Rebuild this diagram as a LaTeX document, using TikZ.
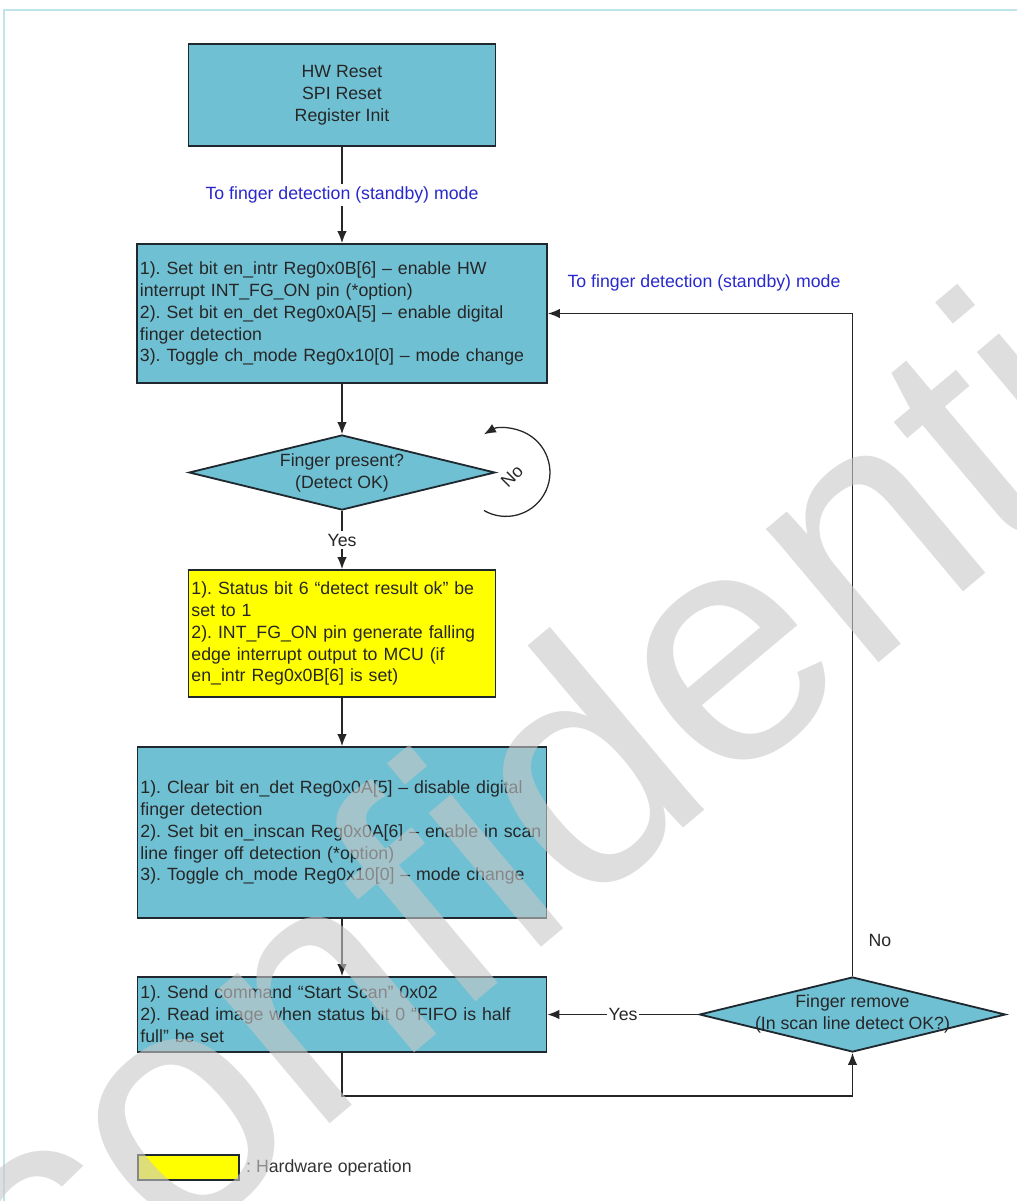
\documentclass[tikz,border=0pt]{standalone}
\usepackage{fontspec}
\setmainfont{Liberation Sans}
\usepackage{xcolor}
\usetikzlibrary{arrows.meta,shapes.geometric}
\definecolor{boxblue}{RGB}{112,192,212}
\definecolor{boxline}{RGB}{30,40,46}
\definecolor{modeblue}{RGB}{40,40,205}
\definecolor{framecyan}{RGB}{190,228,236}
\definecolor{hwyellow}{RGB}{255,255,0}
\definecolor{stampgray}{RGB}{200,200,200}
\frenchspacing

\begin{document}
\begin{tikzpicture}[x=0.025cm,y=-0.025cm,
  font=\fontsize{12.6}{15.6}\selectfont,
  >={Latex[length=3mm,width=2.4mm]},
  blk/.style={draw=boxline,line width=1.3pt,fill=boxblue,text=black!85,inner xsep=0.075cm,inner ysep=0pt},
  hwblk/.style={blk,fill=hwyellow},
  decide/.style={diamond,draw=boxline,line width=1.3pt,fill=boxblue,inner sep=0pt,
    minimum width=7.65cm,minimum height=1.875cm},
  link/.style={draw=black!85,line width=0.9pt},
  modetxt/.style={text=modeblue,fill=white,inner sep=2pt}]
\useasboundingbox (0,0) rectangle (1017,1201);
% frame
\draw[framecyan,line width=1.5pt] (4,1201) -- (4,10) -- (1017,10);

% boxes
\node[blk,minimum width=7.675cm,minimum height=2.55cm,align=center] (rst) at (342,95)
  {HW Reset\\SPI Reset\\Register Init};
\node[blk,text width=10.1cm,minimum height=3.475cm,align=left] (init) at (342,313.5)
  {1). Set bit en\_intr Reg0x0B[6] -- enable HW\\
   interrupt INT\_FG\_ON pin (*option)\\
   2). Set bit en\_det Reg0x0A[5] -- enable digital\\
   finger detection\\
   3). Toggle ch\_mode Reg0x10[0] -- mode change};
\node[decide] (dia1) at (342,472.5) {};
\node[align=center,text=black!85] (dia1txt) at (342,472.5) {Finger present?\\(Detect OK)};
\node[hwblk,text width=7.525cm,minimum height=3.175cm,align=left] (hw) at (342,633.5)
  {1). Status bit 6 ``detect result ok'' be\\
   set to 1\\
   2). INT\_FG\_ON pin generate falling\\
   edge interrupt output to MCU (if\\
   en\_intr Reg0x0B[6] is set)};
\node[blk,text width=10.075cm,minimum height=4.275cm,align=left] (clr) at (342,832.5)
  {1). Clear bit en\_det Reg0x0A[5] -- disable digital\\
   finger detection\\
   2). Set bit en\_inscan Reg0x0A[6] -- enable in scan\\
   line finger off detection (*option)\\
   3). Toggle ch\_mode Reg0x10[0] -- mode change};
\node[blk,text width=10.075cm,minimum height=1.875cm,align=left] (scan) at (342,1014.5)
  {1). Send command ``Start Scan'' 0x02\\
   2). Read image when status bit 0 ``FIFO is half\\
   full'' be set};
\node[decide] (dia2) at (852.5,1014.5) {};
\node[align=center,text=black!85] (dia2txt) at (852.5,1014) {Finger remove\\(In scan line detect OK?)};

% links
\draw[link,->] (rst) -- node[modetxt] (stby1) {To finger detection (standby) mode} (init);
\draw[link,->] (init) -- (dia1);
\draw[link,->] ([shift={(-12,38)}]dia1.east) arc[start angle=120,end angle=-120,radius=44];
\node[rotate=45,text=black!85] (no1) at (512,476) {No};
\draw[link,->] (dia1) -- node[fill=white,text=black!85,inner sep=2pt] (yes1) {Yes} (hw);
\draw[link,->] (hw) -- (clr);
\draw[link,->] (clr) -- (scan);
\draw[link,->] (dia2) -- node[fill=white,text=black!85,inner sep=1pt] (yes2) {Yes} (scan);
\draw[link,->] (scan.south) -- ++(0,43) -| (dia2.south);
\draw[link,->] (dia2.north) |- (init.east);
\node[text=black!85] (no2) at (880,940) {No};
\node[text=modeblue] (stby2) at (704,283) {To finger detection (standby) mode};

% key
\node[draw=boxline,line width=1.3pt,fill=hwyellow,minimum width=2.525cm,minimum height=0.625cm] (key) at (188.5,1167.5) {};
\node[anchor=west,inner sep=0pt,text=black!80] (keytxt) at ([xshift=0.15cm]key.east) {: Hardware operation};

% stamp
\node[rotate=40,text=stampgray,opacity=0.6,font=\fontsize{235}{235}\selectfont] (stamp) at (610,735) {confidential};
\end{tikzpicture}
\end{document}
